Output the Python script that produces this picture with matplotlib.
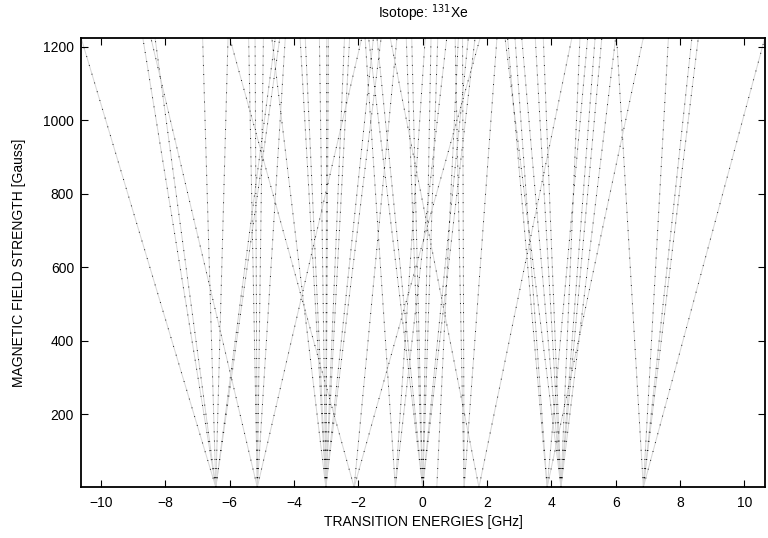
import matplotlib
matplotlib.use("Agg")
import matplotlib.pyplot as plt

plt.rcParams['font.family'] = ['Liberation Sans', 'DejaVu Sans']
plt.rcParams['lines.scale_dashes'] = False

# field range of the sweep [Gauss]
b_low, b_high = 1, 1225

# energies reached at b_high [GHz], one list per zero-field component (fan tip)
ends_m643 = [-10.62, -8.70, -8.32, -6.84, -6.05, -4.58, -4.44]
ends_m514 = [-8.45, -5.41, -5.21, -4.95, -4.27, -1.89]
ends_m301 = [-4.69, -3.81, -3.65, -3.21, -2.98, -2.93, -2.43, -2.27, -1.53, -1.29]
ends_m213 = [-6.00, -0.80, 1.79]
ends_m085 = [-1.79, 0.08, 0.75]
ends_000 = [-1.68, -1.42, -0.51, -0.34, 0.26, 0.47, 1.42, 1.63]
ends_044 = [1.11]
ends_129 = [1.01, 1.24, 2.31]
ends_175 = [-1.01, 4.64]
ends_387 = [2.64, 2.87, 5.13, 6.86]
ends_430 = [2.56, 3.08, 3.50, 3.75, 4.89, 5.36, 5.57, 6.00]
ends_686 = [6.03, 7.64, 8.37, 8.57, 10.64]

# zero-field transition energies [GHz]
tips = [-6.43, -5.14, -3.01, -2.13, -0.85, 0.00, 0.44, 1.29, 1.75, 3.87, 4.30, 6.86]
ends = [ends_m643, ends_m514, ends_m301, ends_m213, ends_m085, ends_000,
        ends_044, ends_129, ends_175, ends_387, ends_430, ends_686]

fig = plt.figure(figsize=(7.68, 5.38), dpi=100)
ax = fig.add_axes([0.1055, 0.0943, 0.8905, 0.8357])

for f0, fan in zip(tips, ends):
    for f1 in fan:
        ax.plot([f0, f1], [b_low, b_high], color='0.84', lw=0.7, zorder=1)
        ax.plot([f0, f1], [b_low, b_high], color='k', lw=0.7,
                linestyle=(0, (0.6, 6.0)), zorder=2)

ax.set_xlim(-10.62, 10.64)
ax.set_ylim(b_low, b_high)
ax.set_xticks(range(-10, 11, 2))
ax.set_yticks(range(200, 1201, 200))
ax.tick_params(direction='in', length=5, width=0.8, top=True, right=True,
               labelsize=10, pad=6)
ax.tick_params(axis='y', pad=5)
for s in ax.spines.values():
    s.set_linewidth(1.3)

ax.set_title('Isotope: $^{131}$Xe', fontsize=10, pad=14)
ax.set_xlabel('TRANSITION ENERGIES [GHz]', fontsize=10, labelpad=4)
ax.set_ylabel('MAGNETIC FIELD STRENGTH [Gauss]', fontsize=10, labelpad=12)

fig.savefig('out.png', dpi=100)
